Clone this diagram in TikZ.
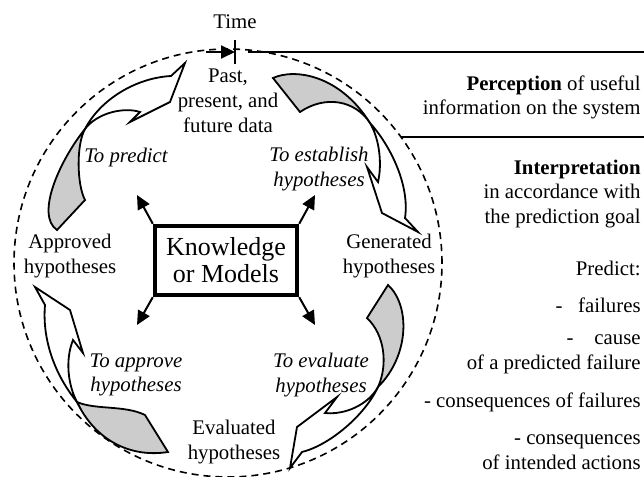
\documentclass[tikz,border=0pt]{standalone}
\usepackage{fontspec}
\setmainfont{Liberation Serif}
\usetikzlibrary{arrows.meta}
\tikzset{
txt/.style={font=\fontsize{10.4}{12.4}\selectfont, align=center, inner sep=0pt},
act/.style={txt, font=\fontsize{10.4}{12.4}\selectfont\itshape},
note/.style={txt, align=right, anchor=east},
kbox/.style={draw=black, line width=2.2pt, minimum width=71pt, minimum height=34.5pt,
  font=\fontsize{13}{13.5}\selectfont, align=center, inner sep=0pt},
spoke/.style={line width=1pt, -{Triangle[length=7pt,width=6.5pt]}},
ribbon/.style={draw=black, line width=0.9pt, fill=white, line join=miter},
twist/.style={ribbon, fill=black!20},
rim/.style={line width=0.8pt, dash pattern=on 3.5pt off 2.5pt},
rule/.style={line width=0.8pt},
}

\begin{document}
\begin{tikzpicture}[x=0.5pt,y=-0.5pt]
\useasboundingbox (0,0) rectangle (644,477);

% cycle boundary and time axis
\draw[rim] (228,263) circle[radius=107pt];
\coordinate (tstart) at (206,52);
\coordinate (tick) at (235,52);
\coordinate (ticktop) at (235,40);
\coordinate (tickbot) at (235,64);
\draw[spoke] (tstart) -- (tick);
\draw[line width=0.9pt] (ticktop) -- (tickbot);
\node[txt] (time) at (235,22) {Time};

% rules on the right
\coordinate (r1a) at (248,52);
\coordinate (r1b) at (644,52);
\coordinate (r2a) at (401,137);
\coordinate (r2b) at (644,137);
\draw[rule] (r1a) -- (r1b);
\draw[rule] (r2a) -- (r2b);

% ribbon arrows
\draw[twist] (85,129) .. controls (60,160) and (35,215) .. (57,230) -- (85,200)
  .. controls (77,185) and (76,145) .. (85,129) -- cycle;
\draw[ribbon] (85,129) .. controls (100,100) and (135,78) .. (171,76) -- (185,63)
  -- (170,102) -- (130,122) -- (140,112) .. controls (125,107) and (98,112) .. (85,129) -- cycle;

\draw[twist] (273,78) .. controls (295,68) and (340,75) .. (370,123)
  .. controls (355,100) and (325,95) .. (300,112) -- cycle;
\draw[ribbon] (370,123) .. controls (390,145) and (410,185) .. (405,218) -- (418,232)
  -- (382,213) -- (367,167) -- (378,182) .. controls (382,165) and (380,140) .. (370,123) -- cycle;

\draw[twist] (388,285) .. controls (410,305) and (410,355) .. (378,387)
  .. controls (388,365) and (385,335) .. (367,318) -- cycle;
\draw[ribbon] (378,387) .. controls (365,415) and (330,445) .. (302,452) -- (290,468)
  -- (297,427) -- (337,397) -- (325,413) .. controls (345,415) and (368,405) .. (378,387) -- cycle;

\draw[twist] (145,415) -- (168,452) .. controls (130,458) and (95,440) .. (77,402)
  .. controls (95,410) and (125,405) .. (145,415) -- cycle;
\draw[ribbon] (77,402) .. controls (55,375) and (42,340) .. (45,305) -- (35,287)
  -- (70,310) -- (83,353) -- (73,340) .. controls (65,360) and (68,385) .. (77,402) -- cycle;

% knowledge box and spokes
\node[kbox] (km) at (226,260.5) {Knowledge\\or Models};
\coordinate (knw) at (137,195);
\coordinate (kne) at (315,195);
\coordinate (ksw) at (137,325);
\coordinate (kse) at (315,325);
\draw[spoke] (km.north west) -- (knw);
\draw[spoke] (km.north east) -- (kne);
\draw[spoke] (km.south west) -- (ksw);
\draw[spoke] (km.south east) -- (kse);

% states
\node[txt] (data) at (228,101) {Past,\\present, and\\future data};
\node[txt] (gen) at (389,256) {Generated\\hypotheses};
\node[txt] (eval) at (234,442) {Evaluated\\hypotheses};
\node[txt] (appr) at (70,256) {Approved\\hypotheses};

% actions
\node[act] (predict) at (126,157) {To predict};
\node[act] (establish) at (319,169) {To establish\\hypotheses};
\node[act] (evaluate) at (321,375) {To evaluate\\hypotheses};
\node[act] (approve) at (136,375) {To approve\\hypotheses};

% notes on the right
\node[note] (perc) at (641,97.5) {\textbf{Perception} of useful\\information on the system};
\node[note] (interp) at (641,194) {\textbf{Interpretation}\\in accordance with\\the prediction goal};
\node[note] (pred) at (641,268) {Predict:};
\node[note] (fail) at (641,305) {-\hspace{0.75em}failures};
\node[note] (cause) at (641,354) {-\hspace{1em}cause\\of a predicted failure};
\node[note] (cons) at (641,402) {- consequences of failures};
\node[note] (acts) at (641,452) {- consequences\\of intended actions};
\end{tikzpicture}
\end{document}
